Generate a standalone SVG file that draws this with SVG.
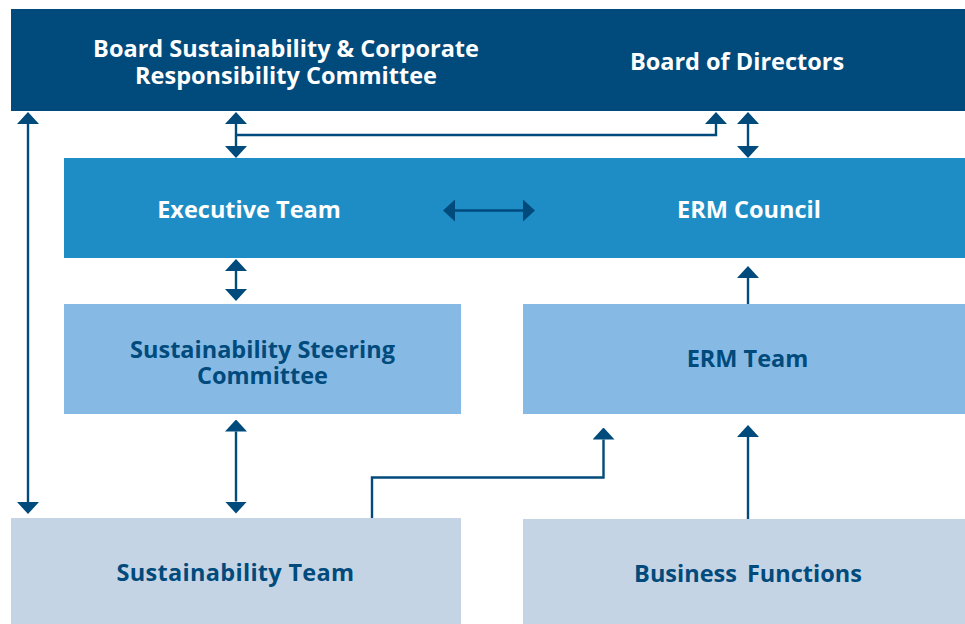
<svg xmlns="http://www.w3.org/2000/svg" width="965" height="624" viewBox="0 0 965 624">
  <style>
    .t { font-family: "Open Sans", "Noto Sans", "Liberation Sans", sans-serif; font-weight: 700; font-size: 23.5px; text-anchor: middle; }
    .w { fill: #ffffff; }
    .d { fill: #004a7c; }
    .board { fill: #004a7c; }
    .exec { fill: #1f8dc5; }
    .mid { fill: #86bae4; }
    .low { fill: #c5d4e4; }
    .c { fill: none; stroke: #004a7c; stroke-width: 2.4; }
  </style>
  <defs>
    <marker id="ah" markerUnits="userSpaceOnUse" markerWidth="12" markerHeight="22" viewBox="0 0 12 22" refX="0" refY="11" orient="auto-start-reverse">
      <path d="M0,0 L12,11 L0,22 Z" fill="#004a7c"/>
    </marker>
  </defs>

  <g id="board-scrc">
    <rect class="board" x="11" y="9" width="482" height="102"/>
    <text class="t w" x="286" y="56.5"><tspan x="286" y="56.5">Board Sustainability &amp; Corporate</tspan><tspan x="286" y="83.5">Responsibility Committee</tspan></text>
  </g>
  <g id="board-directors">
    <rect class="board" x="492" y="9" width="473" height="102"/>
    <text class="t w" x="737" y="70">Board of Directors</text>
  </g>
  <g id="executive-team">
    <rect class="exec" x="64" y="158" width="429" height="100"/>
    <text class="t w" x="249" y="217.5">Executive Team</text>
  </g>
  <g id="erm-council">
    <rect class="exec" x="492" y="158" width="473" height="100"/>
    <text class="t w" x="749" y="217.5">ERM Council</text>
  </g>
  <g id="steering-committee">
    <rect class="mid" x="64" y="304" width="397" height="110"/>
    <text class="t d" x="262.5" y="357.5"><tspan x="262.5" y="357.5">Sustainability Steering</tspan><tspan x="262.5" y="383.5">Committee</tspan></text>
  </g>
  <g id="erm-team">
    <rect class="mid" x="523" y="304" width="442" height="110"/>
    <text class="t d" x="747.5" y="367">ERM Team</text>
  </g>
  <g id="sustainability-team">
    <rect class="low" x="11" y="518" width="450" height="106"/>
    <text class="t d" x="235.5" y="581" letter-spacing="0.3">Sustainability Team</text>
  </g>
  <g id="business-functions">
    <rect class="low" x="523" y="519" width="442" height="105"/>
    <text class="t d" x="748" y="581.5" word-spacing="4">Business Functions</text>
  </g>

  <g id="connectors">
    <line class="c" x1="28" y1="124" x2="28" y2="502" marker-start="url(#ah)" marker-end="url(#ah)"/>
    <line class="c" x1="236" y1="124" x2="236" y2="146" marker-start="url(#ah)" marker-end="url(#ah)"/>
    <path class="c" d="M236,135 H716 V124" marker-end="url(#ah)"/>
    <line class="c" x1="748" y1="124" x2="748" y2="146" marker-start="url(#ah)" marker-end="url(#ah)"/>
    <line class="c" x1="455" y1="210.5" x2="523" y2="210.5" marker-start="url(#ah)" marker-end="url(#ah)"/>
    <line class="c" x1="236" y1="271" x2="236" y2="289" marker-start="url(#ah)" marker-end="url(#ah)"/>
    <line class="c" x1="748" y1="304" x2="748" y2="278" marker-end="url(#ah)"/>
    <line class="c" x1="236" y1="431.5" x2="236" y2="501.5" marker-start="url(#ah)" marker-end="url(#ah)"/>
    <path class="c" d="M372,518 V477.5 H603.5 V439.5" marker-end="url(#ah)"/>
    <line class="c" x1="748" y1="519" x2="748" y2="437" marker-end="url(#ah)"/>
  </g>
</svg>
